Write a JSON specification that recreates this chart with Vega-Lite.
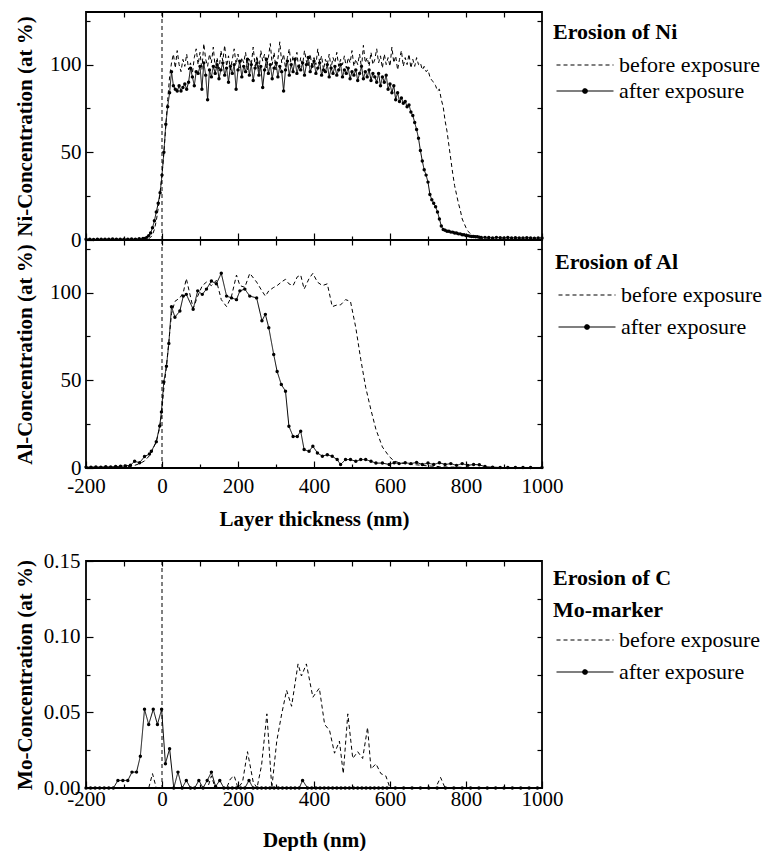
{
"$schema": "https://vega.github.io/schema/vega-lite/v6.json",
"background": "white",
"padding": {"left": 13, "top": 10, "right": 0, "bottom": 0},
"config": {
  "font": "Liberation Serif",
  "view": {"stroke": "black", "strokeWidth": 1.8},
  "axis": {"domain": false, "grid": false, "tickColor": "black", "tickWidth": 1.2, "labelColor": "black", "labelFontSize": 21, "labelFont": "Liberation Serif", "titleColor": "black", "titleFontSize": 21, "titleFontWeight": "bold", "titleFont": "Liberation Serif", "labelFlush": false, "labelOverlap": false},
  "legend": {"titleFontSize": 22, "titleFontWeight": "bold", "titleFont": "Liberation Serif", "titleColor": "black", "labelFontSize": 22, "labelFont": "Liberation Serif", "labelColor": "black", "labelLimit": 400, "symbolSize": 225, "symbolStrokeWidth": 1.2, "symbolStrokeColor": "black", "labelOffset": 44, "titleLimit": 400}
},
"datasets": {
 "ni": [
  {"x":-200,"before":0,"after":0.4},{"x":-190,"before":0,"after":0.5},{"x":-180,"before":0,"after":0.3},{"x":-170,"before":0,"after":0.5},{"x":-160,"before":0,"after":0.4},{"x":-150,"before":0,"after":0.5},{"x":-140,"before":0,"after":0.4},{"x":-130,"before":0,"after":0.6},{"x":-120,"before":0,"after":0.4},{"x":-110,"before":0,"after":0.5},{"x":-100,"before":0,"after":0.4},{"x":-90,"before":0,"after":0.5},{"x":-80,"before":0,"after":0.6},{"x":-70,"before":0,"after":0.5},{"x":-60,"before":0,"after":0.7},{"x":-50,"before":0.1,"after":0.8},
  {"x":-45,"before":0.1,"after":0.8},{"x":-40,"before":0.3,"after":1.5},{"x":-35,"before":0.8,"after":2.5},{"x":-30,"before":1.5,"after":4},{"x":-25,"before":3,"after":7},{"x":-20,"before":6,"after":11},{"x":-15,"before":11,"after":16},{"x":-10,"before":18,"after":21},{"x":-5,"before":27,"after":27},{"x":0,"before":37,"after":37},{"x":5,"before":50,"after":50},{"x":10,"before":65,"after":66},{"x":15,"before":80,"after":76},{"x":20,"before":93,"after":84},{"x":25,"before":101,"after":96},{"x":30,"before":106,"after":88},{"x":35,"before":98,"after":86},{"x":40,"before":108,"after":85},{"x":45,"before":100,"after":88},{"x":50,"before":96,"after":85},{"x":55,"before":103,"after":87},{"x":60,"before":99,"after":89},{"x":65,"before":106,"after":86},{"x":70,"before":97,"after":90},{"x":75,"before":101,"after":98},{"x":80,"before":95,"after":93},{"x":85,"before":104,"after":88},{"x":90,"before":109,"after":96},{"x":95,"before":100,"after":95},{"x":100,"before":107,"after":99},
  {"x":105,"before":97,"after":86},{"x":110,"before":112,"after":101},{"x":115,"before":103,"after":94},{"x":120,"before":99,"after":80},{"x":125,"before":106,"after":97},{"x":130,"before":101,"after":93},{"x":135,"before":110,"after":99},{"x":140,"before":98,"after":95},{"x":145,"before":104,"after":100},{"x":150,"before":96,"after":92},{"x":155,"before":108,"after":97},{"x":160,"before":102,"after":101},{"x":165,"before":111,"after":94},{"x":170,"before":99,"after":98},{"x":175,"before":105,"after":90},{"x":180,"before":97,"after":99},{"x":185,"before":103,"after":95},{"x":190,"before":109,"after":100},{"x":195,"before":100,"after":86},{"x":200,"before":106,"after":97},
  {"x":205,"before":98,"after":102},{"x":210,"before":104,"after":93},{"x":215,"before":101,"after":99},{"x":220,"before":107,"after":96},{"x":225,"before":97,"after":103},{"x":230,"before":103,"after":94},{"x":235,"before":100,"after":100},{"x":240,"before":110,"after":91},{"x":245,"before":99,"after":98},{"x":250,"before":105,"after":101},{"x":255,"before":96,"after":94},{"x":260,"before":108,"after":99},{"x":265,"before":102,"after":87},{"x":270,"before":106,"after":97},{"x":275,"before":98,"after":103},{"x":280,"before":104,"after":95},{"x":285,"before":112,"after":100},{"x":290,"before":100,"after":92},{"x":295,"before":107,"after":98},{"x":300,"before":97,"after":101},
  {"x":305,"before":103,"after":93},{"x":310,"before":113,"after":99},{"x":315,"before":101,"after":96},{"x":320,"before":106,"after":85},{"x":325,"before":98,"after":97},{"x":330,"before":104,"after":102},{"x":335,"before":109,"after":94},{"x":340,"before":99,"after":100},{"x":345,"before":105,"after":96},{"x":350,"before":101,"after":103},{"x":355,"before":107,"after":95},{"x":360,"before":97,"after":99},{"x":365,"before":104,"after":97},{"x":370,"before":100,"after":101},{"x":375,"before":108,"after":94},{"x":380,"before":102,"after":100},{"x":385,"before":99,"after":104},{"x":390,"before":106,"after":96},{"x":395,"before":98,"after":99},{"x":400,"before":104,"after":102},
  {"x":405,"before":100,"after":95},{"x":410,"before":109,"after":98},{"x":415,"before":101,"after":101},{"x":420,"before":105,"after":94},{"x":425,"before":97,"after":97},{"x":430,"before":103,"after":96},{"x":435,"before":100,"after":100},{"x":440,"before":106,"after":93},{"x":445,"before":98,"after":98},{"x":450,"before":104,"after":95},{"x":455,"before":101,"after":99},{"x":460,"before":107,"after":94},{"x":465,"before":99,"after":97},{"x":470,"before":103,"after":100},{"x":475,"before":100,"after":93},{"x":480,"before":105,"after":97},{"x":485,"before":98,"after":95},{"x":490,"before":104,"after":98},{"x":495,"before":101,"after":92},{"x":500,"before":108,"after":96},
  {"x":505,"before":99,"after":94},{"x":510,"before":103,"after":97},{"x":515,"before":100,"after":91},{"x":520,"before":106,"after":95},{"x":525,"before":98,"after":99},{"x":530,"before":111,"after":92},{"x":535,"before":101,"after":96},{"x":540,"before":104,"after":93},{"x":545,"before":99,"after":97},{"x":550,"before":107,"after":91},{"x":555,"before":100,"after":95},{"x":560,"before":103,"after":93},{"x":565,"before":109,"after":90},{"x":570,"before":101,"after":95},{"x":575,"before":105,"after":88},{"x":580,"before":98,"after":93},{"x":585,"before":106,"after":90},{"x":590,"before":100,"after":94},{"x":595,"before":104,"after":86},{"x":600,"before":99,"after":89},
  {"x":605,"before":110,"after":84},{"x":610,"before":101,"after":88},{"x":615,"before":105,"after":80},{"x":620,"before":97,"after":84},{"x":625,"before":103,"after":79},{"x":630,"before":108,"after":81},{"x":635,"before":99,"after":78},{"x":640,"before":104,"after":79},{"x":645,"before":100,"after":76},{"x":650,"before":106,"after":77},{"x":655,"before":98,"after":73},{"x":660,"before":103,"after":71},{"x":665,"before":99,"after":67},{"x":670,"before":104,"after":63},{"x":675,"before":100,"after":58},{"x":680,"before":101,"after":51},{"x":685,"before":97,"after":45},{"x":690,"before":99,"after":40},{"x":695,"before":96,"after":37},{"x":700,"before":97,"after":33},
  {"x":705,"before":93,"after":26},{"x":710,"before":91,"after":23},{"x":715,"before":90,"after":21},{"x":720,"before":88,"after":19},{"x":725,"before":85,"after":16},{"x":730,"before":86,"after":12},{"x":735,"before":80,"after":8},{"x":740,"before":76,"after":6},{"x":745,"before":68,"after":5.5},{"x":750,"before":62,"after":5},{"x":755,"before":54,"after":5},{"x":760,"before":46,"after":4.5},{"x":765,"before":38,"after":4.5},{"x":770,"before":31,"after":4},{"x":775,"before":26,"after":4},{"x":780,"before":21,"after":3.5},{"x":785,"before":17,"after":3.5},{"x":790,"before":12,"after":3},{"x":795,"before":9.5,"after":3},{"x":800,"before":7,"after":2.5},
  {"x":805,"before":5,"after":2.5},{"x":810,"before":4,"after":2.2},{"x":815,"before":3,"after":2},{"x":820,"before":2.3,"after":2},{"x":825,"before":2,"after":1.8},{"x":830,"before":1.5,"after":1.8},{"x":835,"before":1.2,"after":1.6},{"x":840,"before":1,"after":1.5},{"x":850,"before":0.8,"after":1.5},{"x":860,"before":0.6,"after":1.4},{"x":870,"before":0.5,"after":1.2},{"x":880,"before":0.5,"after":1.5},{"x":890,"before":0.4,"after":1.3},{"x":900,"before":0.4,"after":1.2},{"x":910,"before":0.3,"after":1.4},{"x":920,"before":0.3,"after":1.1},{"x":930,"before":0.3,"after":1.3},{"x":940,"before":0.3,"after":1.2},{"x":950,"before":0.3,"after":1.1},{"x":960,"before":0.2,"after":1.3},{"x":970,"before":0.2,"after":1.2},{"x":980,"before":0.2,"after":1},{"x":990,"before":0.2,"after":1.2},{"x":1000,"before":0.2,"after":1.1}
 ],
 "al": [
  {"x":-200,"before":0,"after":0.5},{"x":-187,"before":0,"after":0.5},{"x":-174,"before":0,"after":0.6},{"x":-161,"before":0,"after":0.5},{"x":-148,"before":0,"after":0.7},{"x":-135,"before":0,"after":0.6},{"x":-122,"before":0,"after":0.8},{"x":-109,"before":0.2,"after":1},{"x":-96,"before":0.5,"after":1.2},{"x":-83,"before":1,"after":1.6},{"x":-72,"before":1.5,"after":3.8},{"x":-59,"before":2.5,"after":3},{"x":-46,"before":4,"after":6.5},{"x":-33,"before":7,"after":8},{"x":-28,"before":9,"after":9.5},{"x":-15,"before":15,"after":15},{"x":-6,"before":23,"after":24},{"x":-1.5,"before":30,"after":32},{"x":4.7,"before":45,"after":49},{"x":11.7,"before":58,"after":58},{"x":18,"before":72,"after":71},{"x":25,"before":88,"after":92},{"x":34,"before":95,"after":86},{"x":47,"before":97,"after":89.5},{"x":56,"before":100,"after":98},{"x":64,"before":108,"after":99},{"x":82,"before":91,"after":90.5},{"x":94,"before":98,"after":101},{"x":106,"before":104,"after":99},{"x":117,"before":106,"after":102},{"x":130,"before":104,"after":106.6},{"x":143,"before":107,"after":105},{"x":156,"before":96,"after":111},{"x":170,"before":92,"after":98},{"x":183,"before":98,"after":97},{"x":196,"before":110,"after":96},{"x":205,"before":104,"after":101},{"x":218,"before":103,"after":102},{"x":231,"before":111,"after":98},{"x":249,"before":106,"after":97},{"x":263,"before":101,"after":84},{"x":272,"before":98,"after":87.6},{"x":281,"before":101,"after":80},{"x":294,"before":103,"after":64.7},{"x":303,"before":104,"after":55},{"x":314,"before":106,"after":47.6},{"x":325,"before":107.6,"after":43.8},{"x":334,"before":105,"after":23.8},{"x":345,"before":104,"after":18},{"x":356,"before":109,"after":18},{"x":365,"before":110,"after":21},{"x":374,"before":102,"after":10.5},{"x":387,"before":108,"after":9.5},{"x":397,"before":111,"after":12.4},{"x":409,"before":106,"after":8.6},{"x":422,"before":104,"after":6.7},{"x":435,"before":105,"after":7.6},{"x":448,"before":92,"after":6.7},{"x":461,"before":93,"after":4.8},{"x":470,"before":93,"after":2},{"x":483,"before":96,"after":4.8},{"x":496,"before":95,"after":4.8},{"x":510,"before":80,"after":3.8},{"x":523,"before":62,"after":4.8},{"x":536,"before":46,"after":4.8},{"x":550,"before":33,"after":3.8},{"x":563,"before":22,"after":2.8},{"x":580,"before":12,"after":2.8},{"x":598,"before":6.5,"after":2},{"x":611,"before":4,"after":3},{"x":624,"before":3,"after":2.5},{"x":640,"before":2.5,"after":3},{"x":655,"before":2,"after":2.5},{"x":670,"before":1.8,"after":3.2},{"x":685,"before":1.5,"after":2},{"x":700,"before":1.2,"after":2.8},{"x":715,"before":1,"after":2},{"x":730,"before":0.8,"after":3},{"x":745,"before":0.6,"after":2},{"x":760,"before":0.5,"after":2.5},{"x":775,"before":0.5,"after":1.5},{"x":790,"before":0.4,"after":2.5},{"x":805,"before":0.3,"after":1.5},{"x":820,"before":0.3,"after":2},{"x":835,"before":0.3,"after":1.8},{"x":850,"before":0.2,"after":0.8},{"x":870,"before":0.2,"after":0.5},{"x":890,"before":0.2,"after":0.3},{"x":910,"before":0.2,"after":0.3},{"x":930,"before":0.2,"after":0.3},{"x":950,"before":0.2,"after":0.3},{"x":970,"before":0.2,"after":0.3},{"x":1000,"before":0.2,"after":0.3}
 ],
 "mo": [
  {"x":-200,"before":0},{"x":-100,"before":0},{"x":-45,"before":0},{"x":-35,"before":0},{"x":-25,"before":0.0095},{"x":-15,"before":0},{"x":0,"before":0},{"x":20,"before":0},{"x":60,"before":0},{"x":100,"before":0},{"x":120,"before":0},{"x":130,"before":0.008},{"x":140,"before":0},{"x":170,"before":0},{"x":180,"before":0.006},{"x":190,"before":0.008},{"x":200,"before":0},{"x":212,"before":0.004},{"x":225,"before":0.024},{"x":240,"before":0.004},{"x":250,"before":0},{"x":262,"before":0.015},{"x":276,"before":0.049},{"x":289,"before":0},{"x":302,"before":0.031},{"x":315,"before":0.049},{"x":328,"before":0.0645},{"x":341,"before":0.054},{"x":358,"before":0.082},{"x":367,"before":0.074},{"x":380,"before":0.082},{"x":397,"before":0.06},{"x":414,"before":0.066},{"x":428,"before":0.042},{"x":441,"before":0.038},{"x":454,"before":0.023},{"x":467,"before":0.031},{"x":477,"before":0.0095},{"x":489,"before":0.049},{"x":502,"before":0.0195},{"x":515,"before":0.024},{"x":528,"before":0.0195},{"x":541,"before":0.04},{"x":550,"before":0.0125},{"x":563,"before":0.016},{"x":576,"before":0.0095},{"x":589,"before":0.008},{"x":600,"before":0},{"x":720,"before":0},{"x":733,"before":0.007},{"x":745,"before":0},{"x":1000,"before":0},
  {"x":-200,"after":0},{"x":-188,"after":0},{"x":-176,"after":0},{"x":-164,"after":0},{"x":-152,"after":0},{"x":-140,"after":0},{"x":-128,"after":0},{"x":-116,"after":0.005},{"x":-103,"after":0.005},{"x":-90,"after":0.005},{"x":-79,"after":0.0105},{"x":-67,"after":0.0105},{"x":-57,"after":0.021},{"x":-46,"after":0.052},{"x":-35,"after":0.042},{"x":-23,"after":0.052},{"x":-12,"after":0.042},{"x":-1,"after":0.052},{"x":9,"after":0.016},{"x":20,"after":0.026},{"x":31,"after":0},{"x":42,"after":0.0105},{"x":53,"after":0},{"x":64,"after":0.005},{"x":75,"after":0},{"x":86,"after":0},{"x":97,"after":0.005},{"x":108,"after":0},{"x":119,"after":0.005},{"x":130,"after":0.0105},{"x":141,"after":0.001},{"x":152,"after":0.005},{"x":163,"after":0},{"x":174,"after":0},{"x":185,"after":0},{"x":196,"after":0},{"x":207,"after":0},{"x":218,"after":0},{"x":229,"after":0.005},{"x":240,"after":0},{"x":251,"after":0},{"x":262,"after":0},{"x":273,"after":0},{"x":284,"after":0},{"x":295,"after":0},{"x":306,"after":0},{"x":317,"after":0},{"x":328,"after":0},{"x":339,"after":0},{"x":350,"after":0},{"x":361,"after":0},{"x":370,"after":0.005},{"x":383,"after":0},{"x":394,"after":0},{"x":405,"after":0},{"x":416,"after":0},{"x":427,"after":0},{"x":438,"after":0},{"x":449,"after":0},{"x":460,"after":0},{"x":471,"after":0},{"x":482,"after":0},{"x":493,"after":0},{"x":504,"after":0},{"x":515,"after":0},{"x":526,"after":0},{"x":537,"after":0},{"x":548,"after":0},{"x":559,"after":0},{"x":570,"after":0},{"x":581,"after":0},{"x":592,"after":0},{"x":614,"after":0},{"x":636,"after":0},{"x":658,"after":0},{"x":680,"after":0},{"x":702,"after":0},{"x":724,"after":0},{"x":746,"after":0},{"x":768,"after":0},{"x":790,"after":0},{"x":812,"after":0},{"x":834,"after":0},{"x":856,"after":0},{"x":878,"after":0},{"x":900,"after":0},{"x":922,"after":0},{"x":944,"after":0},{"x":966,"after":0},{"x":988,"after":0}
 ]
},
"resolve": {"scale": {"strokeDash": "independent"}, "legend": {"strokeDash": "independent"}},
"spacing": 19,
"vconcat": [
 {
  "bounds": "flush",
  "spacing": 0,
  "resolve": {"scale": {"strokeDash": "independent"}, "legend": {"strokeDash": "independent"}},
  "vconcat": [
   {
    "width": 456, "height": 228,
    "resolve": {"axis": {"x": "independent", "y": "independent"}},
    "layer": [
     {"data": {"values": [{}]}, "mark": {"type": "rule", "color": "black", "strokeWidth": 1, "strokeDash": [4, 3]},
      "encoding": {"x": {"datum": 0, "type": "quantitative", "scale": {"domain": [-200, 1000], "nice": false, "zero": false}, "axis": null}}},
     {"data": {"name": "ni"}, "transform": [{"filter": "isValid(datum.before)"}],
      "mark": {"type": "line", "color": "black", "strokeWidth": 1},
      "encoding": {
       "x": {"field": "x", "type": "quantitative", "scale": {"domain": [-200, 1000], "nice": false, "zero": false}, "axis": {"orient": "bottom", "values": [-200, 0, 200, 400, 600, 800, 1000], "labels": false, "tickSize": -7, "title": null}},
       "y": {"field": "before", "type": "quantitative", "scale": {"domain": [0, 130], "nice": false, "zero": false}, "axis": {"orient": "left", "values": [0, 50, 100], "tickSize": -7, "labelPadding": 12, "minExtent": 44, "maxExtent": 44, "title": "Ni-Concentration (at %)", "titlePadding": 7}},
       "strokeDash": {"datum": "before", "type": "nominal", "scale": {"domain": ["before", "after"], "range": [[4, 3], [1, 0]]},
        "legend": {"title": "Erosion of Ni", "orient": "right", "offset": 0, "padding": 10, "titlePadding": 10, "rowPadding": 4,
         "labelExpr": "datum.value == 'before' ? 'before exposure' : 'after exposure'",
         "encode": {"symbols": {"update": {"shape": {"signal": "datum.value == 'after' ? 'M-1,0H6.6M2.5,0a0.3,0.3 0 1,0 0.6,0a0.3,0.3 0 1,0 -0.6,0' : 'M-1,0H6.6'"}, "fill": {"value": "black"}, "stroke": {"value": "black"}, "strokeWidth": {"value": 1.2}}}}}}
      }},
     {"data": {"name": "ni"}, "transform": [{"filter": "isValid(datum.after)"}],
      "mark": {"type": "line", "color": "black", "strokeWidth": 1},
      "encoding": {
       "x": {"field": "x", "type": "quantitative", "scale": {"domain": [-200, 1000], "nice": false, "zero": false}, "axis": {"orient": "bottom", "values": [-100, 100, 300, 500, 700, 900], "labels": false, "tickSize": -4, "title": null}},
       "y": {"field": "after", "type": "quantitative", "scale": {"domain": [0, 130], "nice": false, "zero": false}, "axis": {"orient": "left", "values": [25, 75, 125], "labels": false, "tickSize": -4, "title": null}},
       "strokeDash": {"datum": "after", "type": "nominal", "scale": {"domain": ["before", "after"], "range": [[4, 3], [1, 0]]},
        "legend": {"title": "Erosion of Ni", "orient": "right", "offset": 0, "padding": 10, "titlePadding": 10, "rowPadding": 4,
         "labelExpr": "datum.value == 'before' ? 'before exposure' : 'after exposure'",
         "encode": {"symbols": {"update": {"shape": {"signal": "datum.value == 'after' ? 'M-1,0H6.6M2.5,0a0.3,0.3 0 1,0 0.6,0a0.3,0.3 0 1,0 -0.6,0' : 'M-1,0H6.6'"}, "fill": {"value": "black"}, "stroke": {"value": "black"}, "strokeWidth": {"value": 1.2}}}}}}
      }},
     {"data": {"name": "ni"}, "transform": [{"filter": "isValid(datum.after)"}],
      "mark": {"type": "point", "filled": true, "color": "black", "size": 12, "opacity": 1},
      "encoding": {
       "x": {"field": "x", "type": "quantitative", "scale": {"domain": [-200, 1000], "nice": false, "zero": false}, "axis": {"orient": "top", "values": [-100, 0, 100, 200, 300, 400, 500, 600, 700, 800, 900], "labels": false, "tickSize": -5, "title": null}},
       "y": {"field": "after", "type": "quantitative", "scale": {"domain": [0, 130], "nice": false, "zero": false}, "axis": {"orient": "right", "values": [25, 50, 75, 100, 125], "labels": false, "tickSize": -5, "title": null}}
      }}
    ]
   },
   {
    "width": 456, "height": 228,
    "resolve": {"axis": {"x": "independent", "y": "independent"}},
    "layer": [
     {"data": {"values": [{}]}, "mark": {"type": "rule", "color": "black", "strokeWidth": 1, "strokeDash": [4, 3]},
      "encoding": {"x": {"datum": 0, "type": "quantitative", "scale": {"domain": [-200, 1000], "nice": false, "zero": false}, "axis": null}}},
     {"data": {"name": "al"}, "transform": [{"filter": "isValid(datum.before)"}],
      "mark": {"type": "line", "color": "black", "strokeWidth": 1},
      "encoding": {
       "x": {"field": "x", "type": "quantitative", "scale": {"domain": [-200, 1000], "nice": false, "zero": false}, "axis": {"orient": "bottom", "values": [-200, 0, 200, 400, 600, 800, 1000], "labelExpr": "'' + datum.value", "tickSize": -7, "labelPadding": 14, "title": "Layer thickness (nm)", "titlePadding": 12}},
       "y": {"field": "before", "type": "quantitative", "scale": {"domain": [0, 130], "nice": false, "zero": false}, "axis": {"orient": "left", "values": [0, 50, 100], "tickSize": -7, "labelPadding": 12, "minExtent": 44, "maxExtent": 44, "title": "Al-Concentration (at %)", "titlePadding": 7}},
       "strokeDash": {"datum": "before", "type": "nominal", "scale": {"domain": ["before", "after"], "range": [[4, 3], [1, 0]]},
        "legend": {"title": "Erosion of Al", "orient": "right", "offset": 0, "padding": 12, "titlePadding": 10, "rowPadding": 10,
         "labelExpr": "datum.value == 'before' ? 'before exposure' : 'after exposure'",
         "encode": {"symbols": {"update": {"shape": {"signal": "datum.value == 'after' ? 'M-1,0H6.6M2.5,0a0.3,0.3 0 1,0 0.6,0a0.3,0.3 0 1,0 -0.6,0' : 'M-1,0H6.6'"}, "fill": {"value": "black"}, "stroke": {"value": "black"}, "strokeWidth": {"value": 1.2}}}}}}
      }},
     {"data": {"name": "al"}, "transform": [{"filter": "isValid(datum.after)"}],
      "mark": {"type": "line", "color": "black", "strokeWidth": 1},
      "encoding": {
       "x": {"field": "x", "type": "quantitative", "scale": {"domain": [-200, 1000], "nice": false, "zero": false}, "axis": {"orient": "bottom", "values": [-100, 100, 300, 500, 700, 900], "labels": false, "tickSize": -4, "title": null}},
       "y": {"field": "after", "type": "quantitative", "scale": {"domain": [0, 130], "nice": false, "zero": false}, "axis": {"orient": "left", "values": [25, 75, 125], "labels": false, "tickSize": -4, "title": null}},
       "strokeDash": {"datum": "after", "type": "nominal", "scale": {"domain": ["before", "after"], "range": [[4, 3], [1, 0]]},
        "legend": {"title": "Erosion of Al", "orient": "right", "offset": 0, "padding": 12, "titlePadding": 10, "rowPadding": 10,
         "labelExpr": "datum.value == 'before' ? 'before exposure' : 'after exposure'",
         "encode": {"symbols": {"update": {"shape": {"signal": "datum.value == 'after' ? 'M-1,0H6.6M2.5,0a0.3,0.3 0 1,0 0.6,0a0.3,0.3 0 1,0 -0.6,0' : 'M-1,0H6.6'"}, "fill": {"value": "black"}, "stroke": {"value": "black"}, "strokeWidth": {"value": 1.2}}}}}}
      }},
     {"data": {"name": "al"}, "transform": [{"filter": "isValid(datum.after)"}],
      "mark": {"type": "point", "filled": true, "color": "black", "size": 12, "opacity": 1},
      "encoding": {
       "x": {"field": "x", "type": "quantitative", "scale": {"domain": [-200, 1000], "nice": false, "zero": false}, "axis": {"orient": "top", "values": [-100, 0, 100, 200, 300, 400, 500, 600, 700, 800, 900], "labels": false, "tickSize": -5, "title": null}},
       "y": {"field": "after", "type": "quantitative", "scale": {"domain": [0, 130], "nice": false, "zero": false}, "axis": {"orient": "right", "values": [25, 50, 75, 100, 125], "labels": false, "tickSize": -5, "title": null}}
      }}
    ]
   }
  ]
 },
 {
  "width": 456, "height": 227,
  "resolve": {"axis": {"x": "independent", "y": "independent"}},
  "layer": [
   {"data": {"values": [{}]}, "mark": {"type": "rule", "color": "black", "strokeWidth": 1, "strokeDash": [4, 3]},
    "encoding": {"x": {"datum": 0, "type": "quantitative", "scale": {"domain": [-200, 1000], "nice": false, "zero": false}, "axis": null}}},
   {"data": {"name": "mo"}, "transform": [{"filter": "isValid(datum.before)"}],
    "mark": {"type": "line", "color": "black", "strokeWidth": 1},
    "encoding": {
     "x": {"field": "x", "type": "quantitative", "scale": {"domain": [-200, 1000], "nice": false, "zero": false}, "axis": {"orient": "bottom", "values": [-200, 0, 200, 400, 600, 800, 1000], "labelExpr": "'' + datum.value", "tickSize": -7, "labelPadding": 7, "title": "Depth (nm)", "titlePadding": 20}},
     "y": {"field": "before", "type": "quantitative", "scale": {"domain": [0, 0.15], "nice": false, "zero": false}, "axis": {"orient": "left", "values": [0, 0.05, 0.1, 0.15], "labelExpr": "format(datum.value, '.2f')", "tickSize": -7, "labelPadding": 13, "minExtent": 44, "maxExtent": 44, "title": "Mo-Concentration (at %)", "titlePadding": 7}},
     "strokeDash": {"datum": "before", "type": "nominal", "scale": {"domain": ["before", "after"], "range": [[4, 3], [1, 0]]},
      "legend": {"title": ["Erosion of C", "Mo-marker"], "titleLineHeight": 32, "orient": "right", "offset": 3, "padding": 7, "titlePadding": 7, "rowPadding": 10,
       "labelExpr": "datum.value == 'before' ? 'before exposure' : 'after exposure'",
       "encode": {"symbols": {"update": {"shape": {"signal": "datum.value == 'after' ? 'M-1,0H6.6M2.5,0a0.3,0.3 0 1,0 0.6,0a0.3,0.3 0 1,0 -0.6,0' : 'M-1,0H6.6'"}, "fill": {"value": "black"}, "stroke": {"value": "black"}, "strokeWidth": {"value": 1.2}}}}}}
    }},
   {"data": {"name": "mo"}, "transform": [{"filter": "isValid(datum.after)"}],
    "mark": {"type": "line", "color": "black", "strokeWidth": 1},
    "encoding": {
     "x": {"field": "x", "type": "quantitative", "scale": {"domain": [-200, 1000], "nice": false, "zero": false}, "axis": {"orient": "bottom", "values": [-100, 100, 300, 500, 700, 900], "labels": false, "tickSize": -4, "title": null}},
     "y": {"field": "after", "type": "quantitative", "scale": {"domain": [0, 0.15], "nice": false, "zero": false}, "axis": {"orient": "left", "values": [0.025, 0.075, 0.125], "labels": false, "tickSize": -4, "title": null}},
     "strokeDash": {"datum": "after", "type": "nominal", "scale": {"domain": ["before", "after"], "range": [[4, 3], [1, 0]]},
      "legend": {"title": ["Erosion of C", "Mo-marker"], "titleLineHeight": 32, "orient": "right", "offset": 3, "padding": 7, "titlePadding": 7, "rowPadding": 10,
       "labelExpr": "datum.value == 'before' ? 'before exposure' : 'after exposure'",
       "encode": {"symbols": {"update": {"shape": {"signal": "datum.value == 'after' ? 'M-1,0H6.6M2.5,0a0.3,0.3 0 1,0 0.6,0a0.3,0.3 0 1,0 -0.6,0' : 'M-1,0H6.6'"}, "fill": {"value": "black"}, "stroke": {"value": "black"}, "strokeWidth": {"value": 1.2}}}}}}
    }},
   {"data": {"name": "mo"}, "transform": [{"filter": "isValid(datum.after)"}],
    "mark": {"type": "point", "filled": true, "color": "black", "size": 12, "opacity": 1},
    "encoding": {
     "x": {"field": "x", "type": "quantitative", "scale": {"domain": [-200, 1000], "nice": false, "zero": false}, "axis": {"orient": "top", "values": [-100, 0, 100, 200, 300, 400, 500, 600, 700, 800, 900], "labels": false, "tickSize": -5, "title": null}},
     "y": {"field": "after", "type": "quantitative", "scale": {"domain": [0, 0.15], "nice": false, "zero": false}, "axis": {"orient": "right", "values": [0.025, 0.05, 0.075, 0.1, 0.125], "labels": false, "tickSize": -5, "title": null}}
    }}
  ]
 }
]
}
